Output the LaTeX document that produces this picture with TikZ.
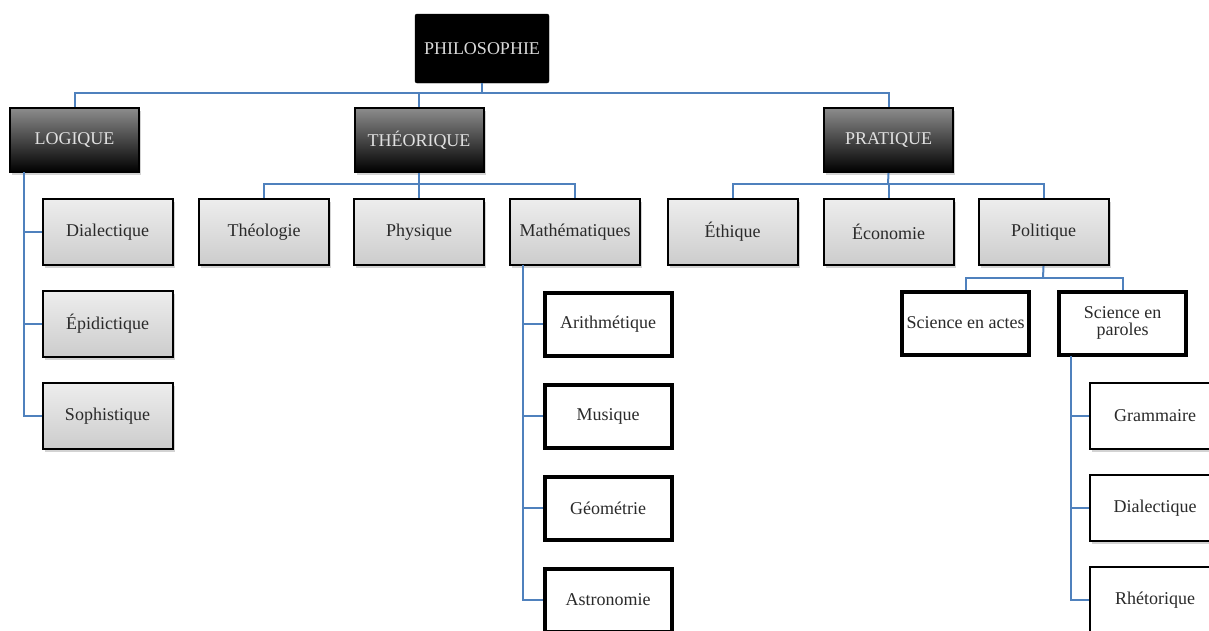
\documentclass[tikz,border=0pt]{standalone}
\usepackage{fontspec}
\setmainfont{Liberation Serif}
\usetikzlibrary{shadows}
\definecolor{linkblue}{HTML}{4F81BD}
\definecolor{txtdark}{HTML}{2A2A2A}
\tikzset{
  every node/.style={font=\fontsize{18}{20}\selectfont},
  philobox/.style={draw=black, fill=black, rounded corners=2pt, text=white!85!black,
    minimum width=134pt, minimum height=69pt, inner sep=2pt},
  topbox/.style={draw=black, line width=2pt, top color=black!45, bottom color=black,
    text=white!88!black, minimum width=129pt, minimum height=64pt, inner sep=2pt,
    drop shadow={opacity=0.35, shadow xshift=2pt, shadow yshift=-3pt}},
  graybox/.style={draw=black, line width=2pt, top color=white!93!black, bottom color=white!80!black,
    text=txtdark, minimum width=130pt, minimum height=66pt, inner sep=2pt,
    drop shadow={opacity=0.35, shadow xshift=2pt, shadow yshift=-3pt}},
  thickbox/.style={draw=black, line width=4pt, fill=white, text=txtdark,
    minimum width=127pt, minimum height=63pt, inner sep=2pt, align=center},
  thinbox/.style={draw=black, line width=2pt, fill=white, text=txtdark,
    minimum width=130pt, minimum height=66pt, inner sep=2pt,
    drop shadow={opacity=0.35, shadow xshift=2pt, shadow yshift=-3pt}},
  conn/.style={draw=linkblue, line width=2pt}
}
\begin{document}
\begin{tikzpicture}[x=1pt,y=-1pt]
\useasboundingbox (0,0) rectangle (1209,630);
\coordinate (b1) at (482,93);
\coordinate (b2) at (419,184);
\coordinate (b3) at (888,184);
\coordinate (b4) at (1043,278);
\coordinate (lv) at (24,172);
\coordinate (mv) at (523,265);
\coordinate (pv) at (1071,356);

% nodes
\node[philobox] (philo) at (482,48.5) {PHILOSOPHIE};
\node[topbox] (logique) at (74.5,140) {LOGIQUE};
\node[topbox] (theorique) at (419,140) {THÉORIQUE};
\node[topbox] (pratique) at (888.5,140) {PRATIQUE};

\node[graybox] (dial) at (107.5,232) {Dialectique};
\node[graybox] (epid) at (107.5,324) {Épidictique};
\node[graybox] (soph) at (107.5,416) {Sophistique};

\node[graybox] (theol) at (264,232) {Théologie};
\node[graybox] (phys) at (419,232) {Physique};
\node[graybox] (math) at (575,232) {Mathématiques};
\node[graybox] (ethi) at (732.5,232) {Éthique};
\node[graybox] (econ) at (888.5,232) {Économie};
\node[graybox] (poli) at (1043.5,232) {Politique};

\node[thickbox] (arith) at (608,324) {Arithmétique};
\node[thickbox] (musi) at (608,416) {Musique};
\node[thickbox] (geom) at (608,508) {Géométrie};
\node[thickbox] (astro) at (608,600) {Astronomie};

\node[thickbox, inner sep=0pt] (actes) at (965.5,323) {Science en actes};
\node[thickbox] (paroles) at (1122.5,323) {Science en\\[-3pt]paroles};

\node[thinbox] (gram) at (1155,416) {Grammaire};
\node[thinbox] (dial2) at (1155,508) {Dialectique};
\node[thinbox] (rhet) at (1155,600) {Rhétorique};

% level 0 -> 1
\draw[conn] (philo.south) -- (b1);
\draw[conn] (b1) -| (logique.north);
\draw[conn] (b1) -| (theorique.north);
\draw[conn] (b1) -| (pratique.north);
% theorique
\draw[conn] (theorique.south) -- (b2);
\draw[conn] (b2) -| (theol.north);
\draw[conn] (b2) -| (phys.north);
\draw[conn] (b2) -| (math.north);
% pratique
\draw[conn] (pratique.south) -- (b3);
\draw[conn] (b3) -| (ethi.north);
\draw[conn] (b3) -| (econ.north);
\draw[conn] (b3) -| (poli.north);
% politique
\draw[conn] (poli.south) -- (b4);
\draw[conn] (b4) -| (actes.north);
\draw[conn] (b4) -| (paroles.north);
% logique
\draw[conn] (lv) |- (dial.west);
\draw[conn] (lv) |- (epid.west);
\draw[conn] (lv) |- (soph.west);
% mathematiques
\draw[conn] (mv) |- (arith.west);
\draw[conn] (mv) |- (musi.west);
\draw[conn] (mv) |- (geom.west);
\draw[conn] (mv) |- (astro.west);
% paroles
\draw[conn] (pv) |- (gram.west);
\draw[conn] (pv) |- (dial2.west);
\draw[conn] (pv) |- (rhet.west);
\end{tikzpicture}
\end{document}
